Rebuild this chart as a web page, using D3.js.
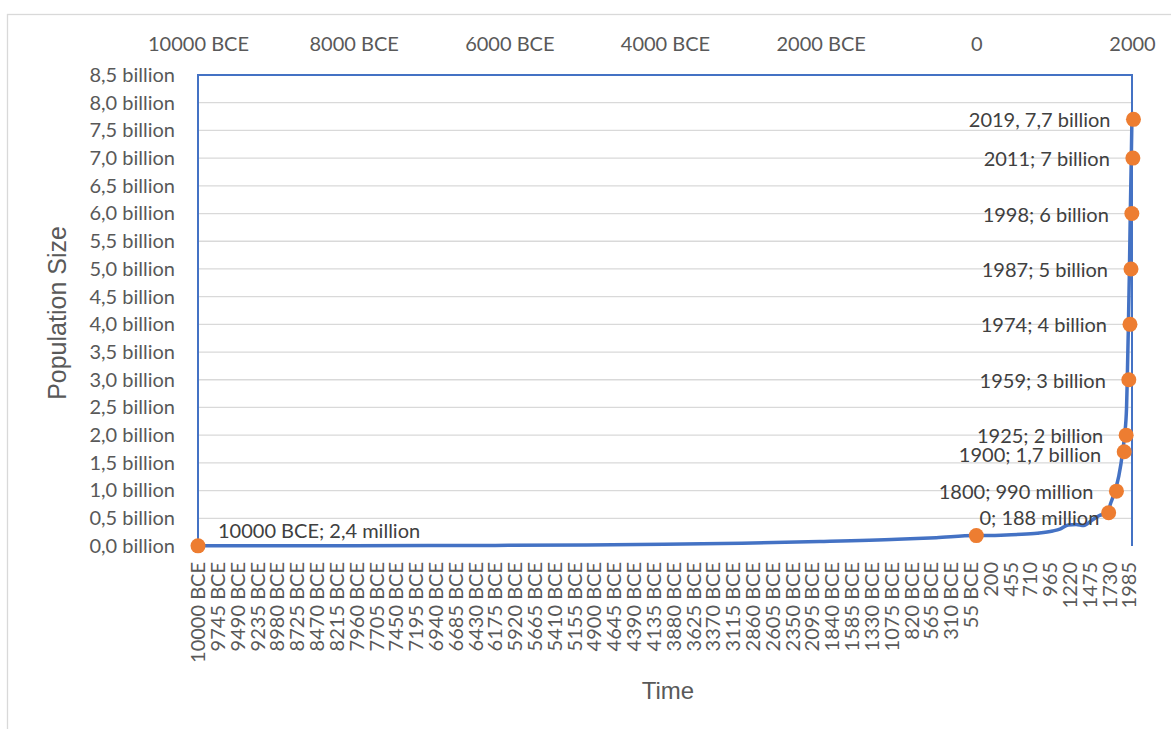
<!DOCTYPE html>
<html>
<head>
<meta charset="utf-8">
<script src="https://cdn.jsdelivr.net/npm/d3@7"></script>
<style>
  html, body { margin: 0; padding: 0; background: #fff; }
  svg { display: block; }
</style>
</head>
<body>
<svg id="chart" width="1171" height="729"></svg>
<script>
// World population, 10000 BCE to 2019 (billions). Negative years are BCE.
const lineYears = [-10000, -9000, -8000, -7000, -6000, -5000, -4000, -3000, -2000, -1000, -500, 0,
  200, 400, 600, 800, 1000, 1100, 1200, 1300, 1400, 1500, 1600, 1700, 1750, 1800, 1850,
  1900, 1925, 1950, 1959, 1974, 1987, 1998, 2011, 2019];
const linePopulation = [0.0024, 0.004, 0.005, 0.008, 0.012, 0.02, 0.03, 0.05, 0.08, 0.12, 0.15, 0.188,
  0.19, 0.2, 0.21, 0.23, 0.27, 0.31, 0.38, 0.39, 0.37, 0.46, 0.55, 0.6, 0.79, 0.99, 1.26,
  1.7, 2.0, 2.5, 3.0, 4.0, 5.0, 6.0, 7.0, 7.7];

// Milestones marked with dots
const milestoneYears = [-10000, 0, 1700, 1800, 1900, 1925, 1959, 1974, 1987, 1998, 2011, 2019];
const milestonePopulation = [0.0024, 0.188, 0.6, 0.99, 1.7, 2.0, 3.0, 4.0, 5.0, 6.0, 7.0, 7.7];
const milestoneLabels = ["10000 BCE; 2,4 million", "0; 188 million", "", "1800; 990 million",
  "1900; 1,7 billion", "1925; 2 billion", "1959; 3 billion", "1974; 4 billion",
  "1987; 5 billion", "1998; 6 billion", "2011; 7 billion", "2019, 7,7 billion"];

// Category labels along the bottom (every 255 years)
const timeLabels = ["10000 BCE", "9745 BCE", "9490 BCE", "9235 BCE", "8980 BCE", "8725 BCE",
  "8470 BCE", "8215 BCE", "7960 BCE", "7705 BCE", "7450 BCE", "7195 BCE", "6940 BCE", "6685 BCE",
  "6430 BCE", "6175 BCE", "5920 BCE", "5665 BCE", "5410 BCE", "5155 BCE", "4900 BCE", "4645 BCE",
  "4390 BCE", "4135 BCE", "3880 BCE", "3625 BCE", "3370 BCE", "3115 BCE", "2860 BCE", "2605 BCE",
  "2350 BCE", "2095 BCE", "1840 BCE", "1585 BCE", "1330 BCE", "1075 BCE", "820 BCE", "565 BCE",
  "310 BCE", "55 BCE", "200", "455", "710", "965", "1220", "1475", "1730", "1985"];

// Secondary (top) year axis ticks
const topTicks = [-10000, -8000, -6000, -4000, -2000, 0, 2000];

// Population axis ticks (billions)
const popTicks = d3.range(0, 8.51, 0.5);

const svg = d3.select("#chart");
const M = { left: 198, top: 75, right: 1132, bottom: 546 };

const fmtLocale = d3.formatLocale({ decimal: ",", thousands: ".", grouping: [3], currency: ["", ""] });
const fmt1 = fmtLocale.format(".1f");
const yearText = y => y < 0 ? `${-y} BCE` : `${y}`;
const labelYear = s => s.endsWith("BCE") ? -parseInt(s) : parseInt(s);

const xLine = d3.scaleLinear().domain([-10000, 2020]).range([M.left, M.right]);
const xTop = d3.scaleLinear().domain([-10000, 2000]).range([M.left, M.right]);
const y = d3.scaleLinear().domain([0, 8.5]).range([M.bottom, M.top]);

const tickFont = "Lato, 'Open Sans', sans-serif";
const tickColor = "#595959";

// Outer chart frame
svg.append("rect")
  .attr("x", 7.5).attr("y", 14.5).attr("width", 1200).attr("height", 800)
  .attr("fill", "none").attr("stroke", "#d9d9d9").attr("stroke-width", 1.3);

// Horizontal gridlines
svg.append("g")
  .selectAll("line")
  .data(popTicks.filter(v => v > 0 && v < 8.5))
  .join("line")
  .attr("x1", M.left).attr("x2", M.right)
  .attr("y1", d => y(d)).attr("y2", d => y(d))
  .attr("stroke", "#d9d9d9").attr("stroke-width", 1.3);

// Left axis
const yAxis = svg.append("g")
  .attr("transform", `translate(${M.left},0)`)
  .call(d3.axisLeft(y).tickValues(popTicks).tickSize(0).tickPadding(23)
    .tickFormat(d => `${fmt1(d)} billion`));
yAxis.select(".domain").remove();
yAxis.selectAll("text")
  .attr("font-family", tickFont).attr("font-size", 20).attr("fill", tickColor);

// Top axis (years)
const topAxis = svg.append("g")
  .attr("transform", `translate(0,${M.top})`)
  .call(d3.axisTop(xTop).tickValues(topTicks).tickSize(0).tickPadding(24).tickFormat(yearText));
topAxis.select(".domain").remove();
topAxis.selectAll("text")
  .attr("font-family", tickFont).attr("font-size", 20).attr("fill", tickColor);

// Bottom category labels, rotated
const bottom = svg.append("g");
bottom.selectAll("text")
  .data(timeLabels)
  .join("text")
  .attr("transform", d => `translate(${xLine(labelYear(d))},${M.bottom + 16}) rotate(-90)`)
  .attr("dy", "0.36em")
  .attr("text-anchor", "end")
  .attr("font-family", tickFont).attr("font-size", 20).attr("fill", tickColor)
  .text(d => d);

// Plot frame (left, top, right)
svg.append("path")
  .attr("d", `M${M.left},${M.bottom}V${M.top}H${M.right}V${M.bottom}`)
  .attr("fill", "none").attr("stroke", "#4472c4").attr("stroke-width", 2);

// Population line
const line = d3.line()
  .x((d, i) => xLine(lineYears[i]))
  .y(d => y(d))
  .curve(d3.curveMonotoneX);
svg.append("path")
  .datum(linePopulation)
  .attr("d", line)
  .attr("fill", "none").attr("stroke", "#4472c4").attr("stroke-width", 3.5)
  .attr("stroke-linejoin", "round");

// Milestone dots
const pts = milestoneYears.map((yr, i) => ({ yr, v: milestonePopulation[i], label: milestoneLabels[i] }));
svg.append("g")
  .selectAll("circle")
  .data(pts)
  .join("circle")
  .attr("cx", d => xTop(d.yr)).attr("cy", d => y(d.v))
  .attr("r", 7.5).attr("fill", "#ed7d31");

// Milestone labels: placed to the left of the dot, except the first two
const labelOffset = d => {
  if (d.yr === -10000) return { dx: 20, dy: -15, anchor: "start" };
  if (d.yr === 0) return { dx: 123, dy: -18, anchor: "end" };
  if (d.yr === 1900) return { dx: -23, dy: 3, anchor: "end" };
  return { dx: -23, dy: 1, anchor: "end" };
};
svg.append("g")
  .selectAll("text")
  .data(pts.filter(d => d.label))
  .join("text")
  .attr("x", d => xTop(d.yr) + labelOffset(d).dx)
  .attr("y", d => y(d.v) + labelOffset(d).dy)
  .attr("dy", "0.35em")
  .attr("text-anchor", d => labelOffset(d).anchor)
  .attr("font-family", tickFont).attr("font-size", 20).attr("fill", "#404040")
  .text(d => d.label);

// Axis titles
svg.append("text")
  .attr("transform", `translate(66,313) rotate(-90)`)
  .attr("text-anchor", "middle")
  .attr("font-family", "'Liberation Sans', Arial, sans-serif").attr("font-size", 25)
  .attr("fill", tickColor)
  .text("Population Size");
svg.append("text")
  .attr("x", 668).attr("y", 699)
  .attr("text-anchor", "middle")
  .attr("font-family", "'Liberation Sans', Arial, sans-serif").attr("font-size", 24)
  .attr("fill", tickColor)
  .text("Time");
</script>
</body>
</html>
